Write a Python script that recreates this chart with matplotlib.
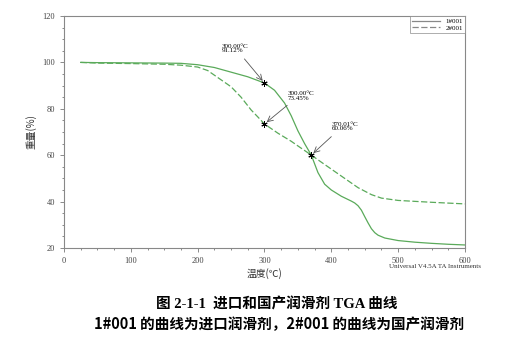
import matplotlib.pyplot as plt
from matplotlib.ticker import MultipleLocator

# 1#001 (imported lubricant), solid
t1 = [25, 50, 100, 150, 175, 200, 225, 250, 275, 300, 315, 330, 340, 350, 360, 370,
      380, 390, 400, 415, 430, 435, 440, 445, 450, 455, 460, 465, 470, 480, 500, 525, 550, 575, 600]
w1 = [100.0, 99.9, 99.8, 99.7, 99.6, 99.0, 97.8, 95.8, 93.8, 91.12, 88.0, 82.5, 77.0, 70.5, 65.0, 60.06,
      52.5, 47.5, 45.0, 42.3, 40.2, 39.4, 38.2, 36.3, 33.5, 30.8, 28.3, 26.6, 25.5, 24.3, 23.2, 22.5, 22.0, 21.6, 21.3]

# 2#001 (domestic lubricant), dashed
t2 = [25, 50, 100, 150, 175, 200, 215, 230, 250, 265, 280, 290, 300, 320, 340, 355, 370,
      385, 400, 420, 440, 460, 475, 500, 550, 600]
w2 = [100.0, 99.7, 99.5, 99.2, 98.8, 98.0, 96.5, 93.5, 89.5, 85.0, 79.5, 76.5, 73.45, 69.5, 66.0, 63.0, 60.06,
      57.0, 54.0, 50.0, 46.0, 43.0, 41.5, 40.5, 39.7, 39.0]

# marked points: (temp, weight, label, text pos, arrow start)
marks = [
    (300.00, 91.12, "300.00°C\n91.12%", (236, 108.0), (270, 101.5)),
    (300.00, 73.45, "300.00°C\n73.45%", (334, 87.5), (334, 81.5)),
    (370.01, 60.06, "370.01°C\n60.06%", (400, 74.5), (400, 68.0)),
]

green = '#5aaa5a'
serif = ['Liberation Serif', 'Noto Sans CJK SC']
cjk = ['Noto Sans CJK SC', 'DejaVu Sans']

fig = plt.figure(figsize=(5.24, 3.45), dpi=100)
ax = fig.add_axes([0.1221, 0.2812, 0.7653, 0.6724])

ax.plot(t1, w1, color=green, lw=0.9, label='1#001')
ax.plot(t2, w2, color=green, lw=0.9, ls=(0, (5, 2)), label='2#001')

for x, y, s, tp, ap in marks:
    ax.plot(x, y, marker=(6, 2, 0), color='black', ms=4.5, mew=0.7)
    ax.text(tp[0], tp[1], s, fontsize=5, family=serif, ha='left', va='top', linespacing=0.9)
    ax.annotate('', xy=(x, y), xytext=ap,
                arrowprops=dict(arrowstyle='->', color='#555555', lw=0.6, shrinkA=0, shrinkB=2))

ax.set_xlim(0, 600)
ax.set_ylim(20, 120)
ax.xaxis.set_major_locator(MultipleLocator(100))
ax.xaxis.set_minor_locator(MultipleLocator(25))
ax.yaxis.set_major_locator(MultipleLocator(20))
ax.yaxis.set_minor_locator(MultipleLocator(5))
ax.tick_params(which='both', direction='out', colors='#777777', labelcolor='#444444', labelsize=6, width=0.6)
ax.tick_params(which='major', length=3)
ax.tick_params(which='minor', length=1.5)
for lab in ax.get_xticklabels() + ax.get_yticklabels():
    lab.set_family(serif)
for sp in ax.spines.values():
    sp.set_color('#888888')
    sp.set_linewidth(0.8)

ax.set_xlabel('温度(℃)', family=cjk, fontsize=7, labelpad=2, color='#333333')
ax.set_ylabel('重量(%)', family=cjk, fontsize=7, labelpad=4, color='#333333')

leg = ax.legend(loc='upper right', frameon=True, fancybox=False,
                borderaxespad=0, handlelength=4, borderpad=0.3, labelspacing=0.1,
                prop={'family': serif, 'size': 5})
leg.get_frame().set_edgecolor('#888888')
leg.get_frame().set_linewidth(0.6)
for h in leg.get_lines():
    h.set_color('#888888')

fig.text(0.83, 0.228, 'Universal V4.5A TA Instruments', fontsize=5, family=serif,
         ha='center', va='center', color='#333333')

fig.text(0.529, 0.119, '图 2-1-1  进口和国产润滑剂 TGA 曲线', fontsize=10.5, family=serif,
         weight='bold', ha='center', va='center')
fig.text(0.532, 0.061, '1#001 的曲线为进口润滑剂，2#001 的曲线为国产润滑剂', fontsize=10.5,
         family=cjk, weight='bold', ha='center', va='center')

fig.savefig('out.png', dpi=100)
